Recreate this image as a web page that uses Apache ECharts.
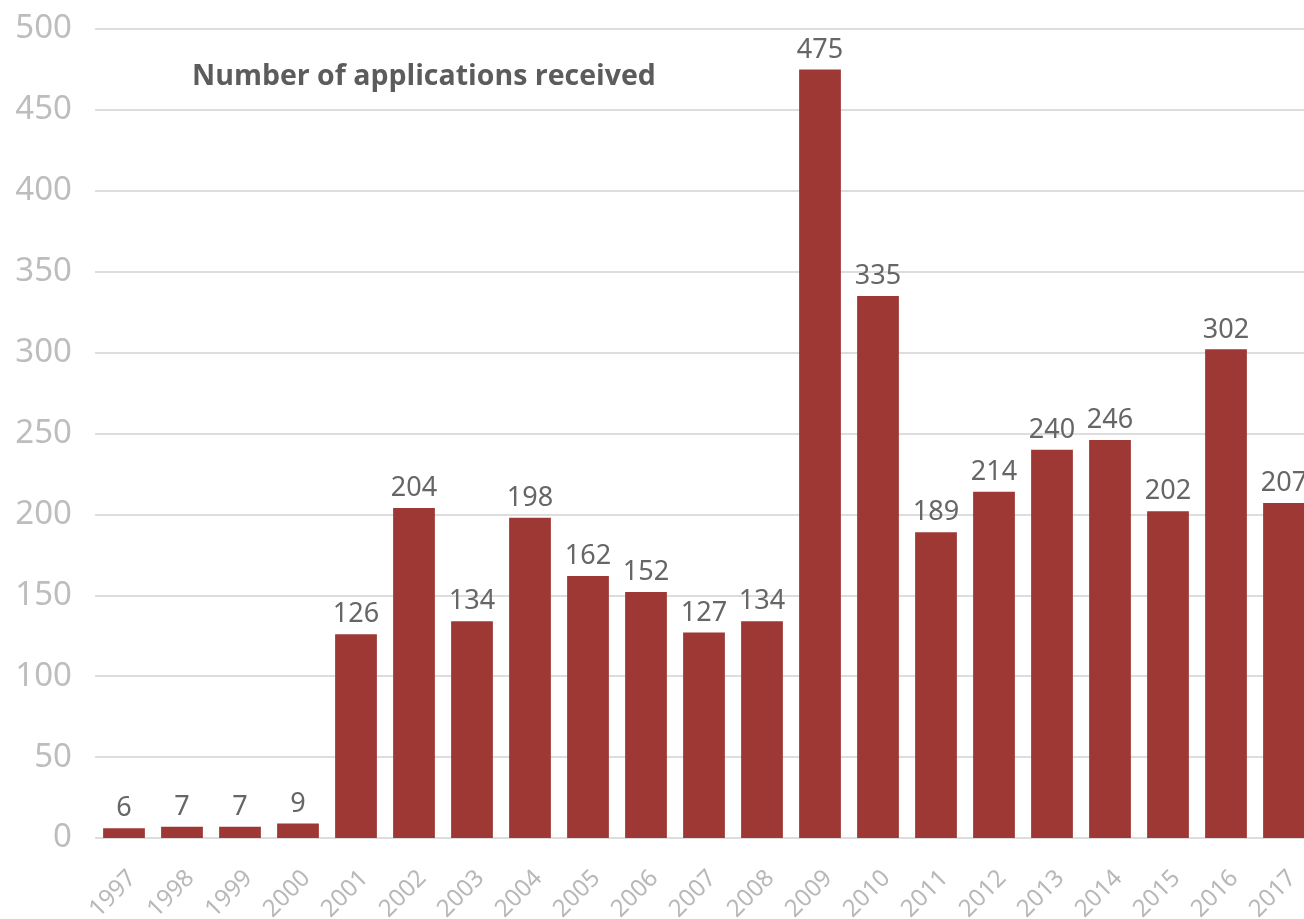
<!DOCTYPE html>
<html>
<head>
<meta charset="utf-8">
<script src="https://cdn.jsdelivr.net/npm/echarts@6/dist/echarts.min.js"></script>
<style>
  html, body { margin: 0; padding: 0; background: #fff; overflow: hidden; }
  #chart { width: 1313px; height: 919px; }
</style>
</head>
<body>
<div id="chart"></div>
<script>
// applications received per year
const years = ['1997', '1998', '1999', '2000', '2001', '2002', '2003', '2004', '2005', '2006', '2007',
  '2008', '2009', '2010', '2011', '2012', '2013', '2014', '2015', '2016', '2017']
const applications = [6, 7, 7, 9, 126, 204, 134, 198, 162, 152, 127,
  134, 475, 335, 189, 214, 240, 246, 202, 302, 207]
const titleText = 'Number of applications received'

const chart = echarts.init(document.getElementById('chart'))
chart.setOption({
  animation: false,
  title: {
    text: titleText,
    left: 187,
    top: 57,
    textStyle: {
      fontFamily: 'Open Sans',
      fontSize: 28.5,
      fontWeight: 'bold',
      color: '#5c5c5c'
    }
  },
  grid: {
    left: 95,
    right: 0,
    top: 29,
    bottom: 81,
    outerBoundsMode: 'none'
  },
  xAxis: {
    type: 'category',
    data: years,
    axisLine: { show: false },
    axisTick: { show: false },
    axisLabel: {
      rotate: 45,
      margin: 28,
      verticalAlign: 'top',
      fontFamily: 'Noto Sans',
      fontSize: 24,
      color: '#b8b8b8'
    }
  },
  yAxis: {
    type: 'value',
    min: 0,
    max: 500,
    interval: 50,
    axisLine: { show: false },
    axisTick: { show: false },
    axisLabel: {
      margin: 23,
      fontFamily: 'Noto Sans',
      fontSize: 33,
      color: '#bdbdbd'
    },
    splitLine: { lineStyle: { color: '#dddddd', width: 2 } }
  },
  series: [{
    type: 'bar',
    data: applications,
    barWidth: '72%',
    itemStyle: { color: '#9e3834' },
    label: {
      show: true,
      position: 'top',
      distance: 6,
      fontFamily: 'Noto Sans',
      fontSize: 27,
      color: '#666666'
    }
  }]
})
</script>
</body>
</html>
